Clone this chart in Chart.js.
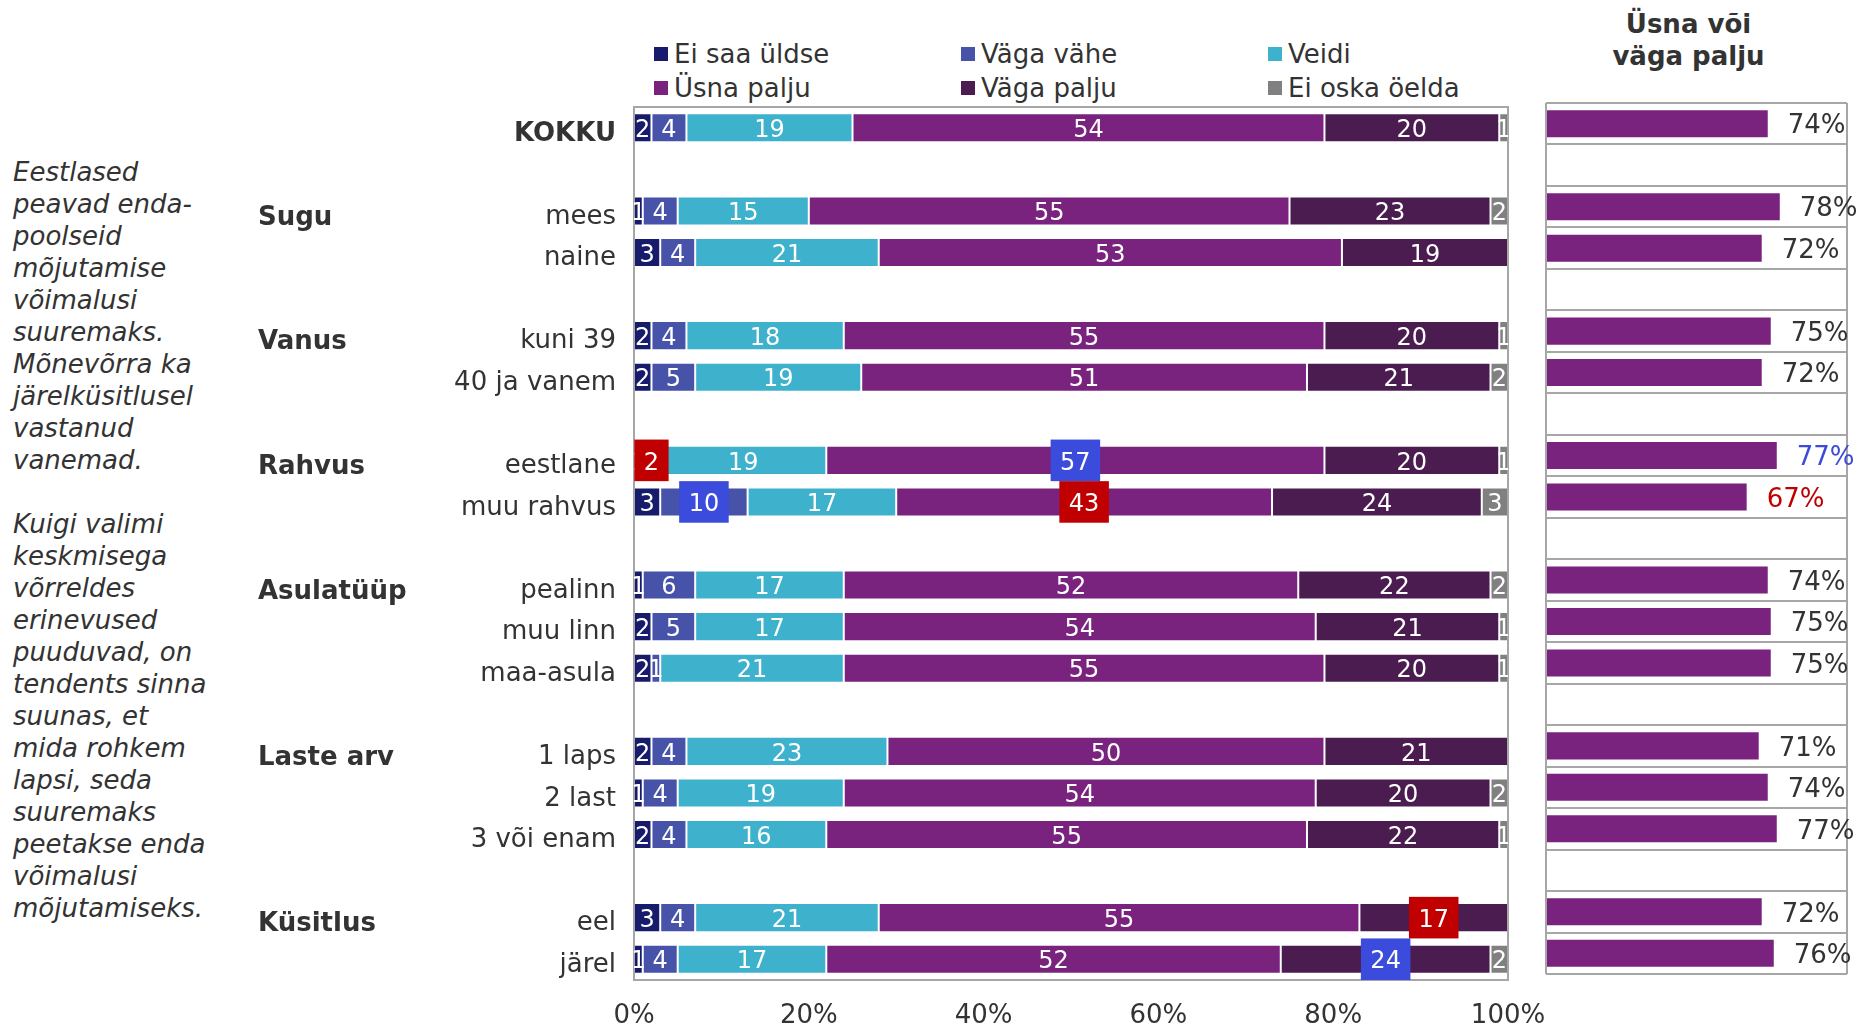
<!DOCTYPE html>
<html><head><meta charset="utf-8">
<script src="https://cdn.jsdelivr.net/npm/chart.js@4/dist/chart.umd.min.js"></script>
<style>
html,body{margin:0;padding:0;background:#fff;}
body{width:1862px;height:1027px;position:relative;overflow:hidden;font-family:"DejaVu Sans",Verdana,sans-serif;color:#333;}
#main{position:absolute;left:0;top:0;}
#side{position:absolute;left:1530px;top:0;}
.note{position:absolute;left:13px;top:156px;font-style:italic;font-size:26px;line-height:32px;color:#333;white-space:pre;}
.leg{position:absolute;font-size:26px;line-height:30px;color:#333;white-space:nowrap;}
.leg i{position:absolute;left:0;top:8px;width:14px;height:14px;}
.leg span{position:absolute;left:20px;top:0;}
#hdr{position:absolute;left:1538px;width:301px;top:8px;text-align:center;font-weight:bold;font-size:26px;line-height:32px;color:#333;}
</style></head>
<body>
<div class="note" id="note"></div>
<div id="legend"></div>
<div id="hdr"></div>
<canvas id="main" width="1600" height="1027"></canvas>
<canvas id="side" width="332" height="1027"></canvas>
<script>
// ---- data ----
const categories = ['KOKKU','','mees','naine','','kuni 39','40 ja vanem','','eestlane','muu rahvus','','pealinn','muu linn','maa-asula','','1 laps','2 last','3 või enam','','eel','järel'];
const groupLabels = ['','','Sugu','','','Vanus','','','Rahvus','','','Asulatüüp','','','','Laste arv','','','','Küsitlus',''];
const seriesNames = ['Ei saa üldse','Väga vähe','Veidi','Üsna palju','Väga palju','Ei oska öelda'];
const eiSaaUldse = [2,null,1,3,null,2,2,null,1,3,null,1,2,2,null,2,1,2,null,3,1];
const vagaVahe   = [4,null,4,4,null,4,5,null,2,10,null,6,5,1,null,4,4,4,null,4,4];
const veidi      = [19,null,15,21,null,18,19,null,19,17,null,17,17,21,null,23,19,16,null,21,17];
const usnaPalju  = [54,null,55,53,null,55,51,null,57,43,null,52,54,55,null,50,54,55,null,55,52];
const vagaPalju  = [20,null,23,19,null,20,21,null,20,24,null,22,21,20,null,21,20,22,null,17,24];
const eiOska     = [1,null,2,0,null,1,2,null,1,3,null,2,1,1,null,0,2,1,null,0,2];
const usnaVoiVaga = [74,null,78,72,null,75,72,null,77,67,null,74,75,75,null,71,74,77,null,72,76];
const xTicks = [0,20,40,60,80,100];
// significance highlights: [category, series index, 'low'|'high']
const highlights = [['eestlane',1,'low'],['eestlane',3,'high'],['muu rahvus',1,'high'],['muu rahvus',3,'low'],['eel',4,'low'],['järel',4,'high']];
const sideHighlights = {'eestlane':'high','muu rahvus':'low'};
const noteText = 'Eestlased\npeavad enda-\npoolseid\nmõjutamise\nvõimalusi\nsuuremaks.\nMõnevõrra ka\njärelküsitlusel\nvastanud\nvanemad.\n\nKuigi valimi\nkeskmisega\nvõrreldes\nerinevused\npuuduvad, on\ntendents sinna\nsuunas, et\nmida rohkem\nlapsi, seda\nsuuremaks\npeetakse enda\nvõimalusi\nmõjutamiseks.';
const sideTitle = 'Üsna või<br>väga palju';

const seriesValues = [eiSaaUldse,vagaVahe,veidi,usnaPalju,vagaPalju,eiOska];
const seriesColors = ['#161B6C','#4753A8','#3EB1CD','#79237F','#4B1C50','#808080'];
const hlColors = {low:'#C00000', high:'#3B4BDB'};
const FONT = '"DejaVu Sans", Verdana, sans-serif';
Chart.defaults.font.family = FONT;

document.getElementById('note').textContent = noteText;
document.getElementById('hdr').innerHTML = sideTitle;
const leg = document.getElementById('legend');
seriesNames.forEach((n,i)=>{
  const col = i%3, row = Math.floor(i/3);
  const d = document.createElement('div');
  d.className='leg';
  d.style.left = (654 + col*307) + 'px';
  d.style.top = (39 + row*34) + 'px';
  d.innerHTML = '<i style="background:'+seriesColors[i]+'"></i><span></span>';
  d.querySelector('span').textContent = n;
  leg.appendChild(d);
});

const framePlugin = {
  id:'frame',
  afterDatasetsDraw(chart){
    const {ctx, chartArea:a} = chart;
    ctx.save();
    ctx.strokeStyle = '#A6A6A6'; ctx.lineWidth = 2;
    ctx.strokeRect(a.left, a.top, a.right-a.left, a.bottom-a.top);
    ctx.restore();
  }
};
const labelPlugin = {
  id:'labels',
  afterDatasetsDraw(chart){
    const {ctx, chartArea:a} = chart;
    ctx.save();
    ctx.beginPath(); ctx.rect(a.left, a.top-20, a.right-a.left, a.bottom-a.top+40); ctx.clip();
    ctx.font = '24px '+FONT; ctx.textAlign='center'; ctx.textBaseline='middle'; ctx.fillStyle='#fff';
    const hlSet = new Set(highlights.map(h=>categories.indexOf(h[0])+':'+h[1]));
    chart.data.datasets.forEach((ds,i)=>{
      const meta = chart.getDatasetMeta(i);
      ds.data.forEach((v,j)=>{
        if(v===null || v===0 || hlSet.has(j+':'+i)) return;
        const el = meta.data[j];
        ctx.fillText(String(v), (el.x+el.base)/2, el.y+3);
      });
    });
    const rowH = (a.bottom-a.top)/categories.length;
    highlights.forEach(([cat,si,kind])=>{
      const j = categories.indexOf(cat);
      const el = chart.getDatasetMeta(si).data[j];
      const v = seriesValues[si][j];
      const cx = (el.x+el.base)/2, cy = el.y;
      const w = ctx.measureText(String(v)).width + 19;
      ctx.fillStyle = hlColors[kind];
      ctx.fillRect(cx-w/2, cy-rowH/2, w, rowH);
      ctx.fillStyle = '#fff';
      ctx.fillText(String(v), cx, cy+3);
    });
    ctx.restore();
  }
};
const groupPlugin = {
  id:'groups',
  afterDraw(chart){
    const {ctx} = chart; const ys = chart.scales.y;
    ctx.save();
    ctx.font = 'bold 26px '+FONT; ctx.textAlign='left'; ctx.textBaseline='middle'; ctx.fillStyle='#333';
    groupLabels.forEach((g,j)=>{ if(g) ctx.fillText(g, 258, ys.getPixelForValue(j)+7); });
    ctx.restore();
  }
};

new Chart(document.getElementById('main'), {
  type:'bar',
  data:{labels:categories, datasets:seriesNames.map((n,i)=>({label:n, data:seriesValues[i], backgroundColor:seriesColors[i],
    borderColor:'rgba(255,255,255,0.45)', borderWidth:1, borderSkipped:false, barPercentage:0.7, categoryPercentage:1}))},
  options:{
    indexAxis:'y', responsive:false, animation:false, events:[],
    layout:{padding:{left:0,right:92,top:107,bottom:0}},
    plugins:{legend:{display:false}, tooltip:{enabled:false}},
    scales:{
      x:{stacked:true, min:0, max:100, grid:{display:false, drawTicks:false}, border:{display:false},
         afterBuildTicks:s=>{ s.ticks = xTicks.map(v=>({value:v})); },
         ticks:{callback:v=>v+'%', color:'#333', font:{size:26}, padding:21, maxRotation:0},
         afterFit:s=>{ s.height = 47; }},
      y:{stacked:true, grid:{display:false, drawTicks:false}, border:{display:false},
         ticks:{autoSkip:false, color:'#333', padding:18, labelOffset:6, font:ctx=>({size:26, weight: ctx.index===0?'bold':'normal'})},
         afterFit:s=>{ s.width = 634; }}
    }
  },
  plugins:[framePlugin, labelPlugin, groupPlugin]
});

const sideGrid = {
  id:'sideGrid',
  afterDatasetsDraw(chart){
    const {ctx, chartArea:a} = chart;
    const n = categories.length, h = (a.bottom-a.top)/n;
    ctx.save(); ctx.strokeStyle='#A6A6A6'; ctx.lineWidth=2;
    ctx.beginPath();
    for(let i=0;i<=n;i++){ const y=Math.round(a.top+i*h); ctx.moveTo(a.left,y); ctx.lineTo(a.right,y); }
    ctx.moveTo(a.left,a.top); ctx.lineTo(a.left,a.bottom);
    ctx.moveTo(a.right,a.top); ctx.lineTo(a.right,a.bottom);
    ctx.stroke(); ctx.restore();
  }
};
const sideLabels = {
  id:'sideLabels',
  afterDraw(chart){
    const {ctx} = chart; const meta = chart.getDatasetMeta(0);
    ctx.save(); ctx.font='26px '+FONT; ctx.textAlign='left'; ctx.textBaseline='middle';
    usnaVoiVaga.forEach((v,j)=>{
      if(v===null) return;
      const el = meta.data[j];
      const k = sideHighlights[categories[j]];
      ctx.fillStyle = k ? hlColors[k] : '#333';
      ctx.fillText(v+'%', el.x+19, el.y+3);
    });
    ctx.restore();
  }
};
new Chart(document.getElementById('side'), {
  type:'bar',
  data:{labels:categories, datasets:[{data:usnaVoiVaga, backgroundColor:seriesColors[3], borderColor:'rgba(255,255,255,0.45)', borderWidth:1, borderSkipped:false, barPercentage:0.7, categoryPercentage:1}]},
  options:{indexAxis:'y', responsive:false, animation:false, events:[],
    layout:{padding:{left:16,right:15,top:103,bottom:53}},
    plugins:{legend:{display:false}, tooltip:{enabled:false}},
    scales:{x:{display:false,min:0,max:100}, y:{display:false}}},
  plugins:[sideGrid, sideLabels]
});
</script>
</body></html>
